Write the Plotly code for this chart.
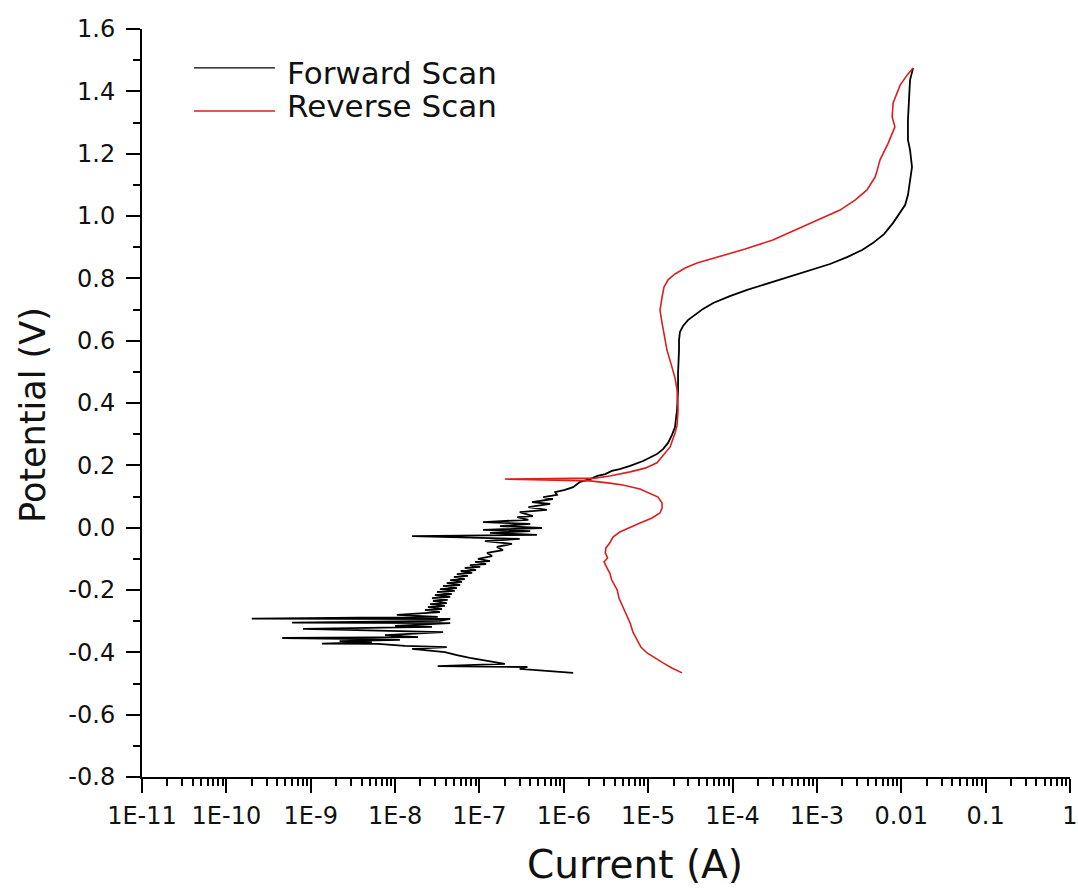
import plotly.graph_objects as go

# ---------------- data ----------------
fwd_current = [
    1.29e-6, 6.5e-7, 3.0e-7, 3.7e-7, 3.2e-8, 2.0e-7, 1.23e-7, 7.7e-8, 5.4e-8, 3.9e-8,
    1.59e-8, 4.1e-8, 1.31e-8, 6.3e-9, 1.36e-9, 5.3e-9, 2.2e-9, 1.14e-8, 2.55e-9, 4.6e-10,
    1.87e-8, 7.6e-9, 3.7e-8, 8.1e-10, 2.74e-8, 1.0e-8, 4.5e-8, 6.0e-10, 3.4e-8, 4.5e-8,
    2.0e-10, 3.2e-8, 1.05e-8,
    1.97e-8, 3.4e-8, 2.26e-8, 3.6e-8, 2.45e-8, 3.9e-8, 2.6e-8, 4.1e-8, 2.81e-8, 4.2e-8,
    2.74e-8, 4.5e-8, 2.97e-8, 4.7e-8, 3.14e-8, 5.1e-8, 3.4e-8, 5.4e-8, 3.7e-8, 5.9e-8,
    4.1e-8, 6.2e-8, 4.5e-8, 6.7e-8, 4.99e-8, 7.3e-8, 5.4e-8, 8.2e-8, 6.0e-8, 9.1e-8,
    6.7e-8, 1.02e-7, 7.7e-8, 1.20e-7, 8.9e-8, 1.33e-7,
    9.6e-8, 1.41e-7, 1.23e-7, 1.9e-7, 1.61e-7, 2.43e-7, 1.16e-7, 3.0e-7, 1.59e-8, 4.8e-7,
    1.33e-7, 4.0e-7, 1.10e-7, 5.5e-7, 1.75e-7, 4.0e-7, 1.10e-7, 3.8e-7, 2.8e-7, 4.3e-7,
    3.0e-7, 6.3e-7, 3.8e-7, 6.9e-7, 4.2e-7, 7.4e-7, 5.7e-7, 8.3e-7, 7.9e-7, 1.03e-6,
    1.29e-6, 1.56e-6,
    2.05e-6, 2.5e-6, 3.1e-6, 3.7e-6, 4.6e-6, 6.1e-6, 8.7e-6, 1.05e-5, 1.27e-5, 1.50e-5,
    1.72e-5, 1.91e-5, 2.08e-5, 2.14e-5, 2.20e-5, 2.26e-5, 2.26e-5, 2.32e-5, 2.32e-5, 2.38e-5,
    2.59e-5, 2.96e-5, 3.4e-5, 4.47e-5, 5.9e-5, 9.3e-5, 1.49e-4, 3.66e-4, 9.0e-4, 1.43e-3,
    2.28e-3, 3.43e-3, 4.6e-3, 6.25e-3, 8.0e-3, 9.7e-3, 1.11e-2, 1.20e-2, 1.27e-2, 1.34e-2,
    1.27e-2, 1.20e-2, 1.20e-2, 1.24e-2, 1.27e-2, 1.38e-2]
fwd_potential = [
    -0.466, -0.460, -0.453, -0.447, -0.444, -0.437, -0.428, -0.418, -0.409, -0.399,
    -0.389, -0.383, -0.379, -0.373, -0.372, -0.367, -0.364, -0.360, -0.357, -0.354,
    -0.351, -0.345, -0.335, -0.325, -0.318, -0.315, -0.306, -0.305, -0.299, -0.293,
    -0.292, -0.286, -0.280,
    -0.274, -0.271, -0.264, -0.261, -0.255, -0.251, -0.245, -0.242, -0.235, -0.232,
    -0.226, -0.222, -0.216, -0.213, -0.206, -0.203, -0.197, -0.194, -0.187, -0.184,
    -0.178, -0.174, -0.168, -0.165, -0.158, -0.155, -0.149, -0.145, -0.139, -0.136,
    -0.129, -0.126, -0.120, -0.117, -0.110, -0.107,
    -0.100, -0.091, -0.081, -0.072, -0.062, -0.052, -0.043, -0.036, -0.027, -0.023,
    -0.017, -0.011, -0.007, -0.001, 0.005, 0.012, 0.018, 0.025, 0.034, 0.037,
    0.050, 0.057, 0.066, 0.076, 0.082, 0.092, 0.098, 0.105, 0.114, 0.121,
    0.130, 0.147,
    0.156, 0.166, 0.172, 0.182, 0.188, 0.198, 0.214, 0.224, 0.236, 0.252,
    0.272, 0.297, 0.323, 0.352, 0.378, 0.442, 0.496, 0.570, 0.602, 0.628,
    0.647, 0.666, 0.679, 0.702, 0.721, 0.743, 0.763, 0.795, 0.827, 0.846,
    0.868, 0.891, 0.913, 0.942, 0.978, 1.010, 1.035, 1.067, 1.106, 1.157,
    1.212, 1.244, 1.308, 1.372, 1.436, 1.475]

rev_current = [
    1.38e-2, 1.17e-2, 9.7e-3, 8.9e-3, 8.0e-3, 7.8e-3, 8.4e-3, 7.0e-3, 5.6e-3, 5.2e-3,
    4.9e-3, 3.9e-3, 2.83e-3, 1.88e-3, 1.32e-3, 9.0e-4, 5.2e-4, 3.0e-4, 1.41e-4, 9.3e-5,
    5.9e-5, 3.79e-5, 2.74e-5, 2.08e-5, 1.72e-5, 1.54e-5, 1.46e-5, 1.38e-5, 1.46e-5, 1.58e-5,
    1.67e-5, 1.91e-5, 2.08e-5, 2.20e-5, 2.26e-5, 2.20e-5, 2.08e-5, 1.82e-5, 1.50e-5, 1.27e-5,
    9.2e-6, 6.1e-6, 3.5e-6, 2.34e-6, 2.0e-7, 2.05e-6, 3.5e-6, 5.0e-6, 8.0e-6, 1.05e-5,
    1.31e-5, 1.46e-5, 1.46e-5, 1.38e-5, 1.11e-5, 8.0e-6, 5.8e-6, 4.6e-6, 3.83e-6, 3.5e-6,
    3.16e-6, 3.1e-6, 3.3e-6, 3.0e-6, 3.2e-6, 3.5e-6, 3.7e-6, 4.3e-6, 4.5e-6, 5.0e-6,
    5.5e-6, 6.1e-6, 6.6e-6, 7.4e-6, 8.2e-6, 9.7e-6, 1.20e-5, 1.50e-5, 1.91e-5, 2.52e-5]
rev_potential = [
    1.475, 1.452, 1.420, 1.395, 1.363, 1.318, 1.286, 1.234, 1.180, 1.148,
    1.125, 1.083, 1.051, 1.019, 1.000, 0.981, 0.952, 0.923, 0.894, 0.880,
    0.866, 0.849, 0.833, 0.814, 0.795, 0.772, 0.740, 0.698, 0.657, 0.612,
    0.570, 0.516, 0.480, 0.442, 0.378, 0.329, 0.304, 0.259, 0.230, 0.208,
    0.191, 0.179, 0.166, 0.159, 0.156, 0.150, 0.143, 0.137, 0.124, 0.111,
    0.098, 0.079, 0.063, 0.047, 0.031, 0.015, -0.001, -0.014, -0.030, -0.049,
    -0.065, -0.081, -0.097, -0.110, -0.126, -0.145, -0.168, -0.200, -0.226, -0.255,
    -0.280, -0.306, -0.335, -0.360, -0.383, -0.402, -0.418, -0.434, -0.450, -0.466]

x_tick_vals = [1e-11, 1e-10, 1e-9, 1e-8, 1e-7, 1e-6, 1e-5, 1e-4, 1e-3, 1e-2, 1e-1, 1]
x_tick_text = ["1E-11", "1E-10", "1E-9", "1E-8", "1E-7", "1E-6", "1E-5", "1E-4", "1E-3",
               "0.01", "0.1", "1"]
y_tick_vals = [-0.8, -0.6, -0.4, -0.2, 0.0, 0.2, 0.4, 0.6, 0.8, 1.0, 1.2, 1.4, 1.6]
y_tick_text = ["-0.8", "-0.6", "-0.4", "-0.2", "0.0", "0.2", "0.4", "0.6", "0.8", "1.0",
               "1.2", "1.4", "1.6"]
series_names = ["Forward Scan", "Reverse Scan"]
series_colors = ["#000000", "#dc1e1e"]

# minor tick positions (axis decoration)
x_minor = [k * 10.0 ** e for e in range(-11, 0) for k in range(2, 10)]
y_minor = [round(-0.7 + 0.2 * i, 1) for i in range(12)]

FONT = "DejaVu Sans, Liberation Sans, Arial, sans-serif"
TXT = "#111111"

fig = go.Figure()
fig.add_trace(go.Scatter(x=fwd_current, y=fwd_potential, mode="lines", name=series_names[0],
                         line=dict(color=series_colors[0], width=1.8), showlegend=False))
fig.add_trace(go.Scatter(x=rev_current, y=rev_potential, mode="lines", name=series_names[1],
                         line=dict(color=series_colors[1], width=1.6), showlegend=False))

# hand-drawn legend (long line samples, as in the original)
legend_y_line = [0.948, 0.8904]
legend_y_text = [0.9412, 0.897]
for i in range(2):
    fig.add_shape(type="line", xref="paper", yref="paper", x0=0.056, x1=0.1433,
                  y0=legend_y_line[i], y1=legend_y_line[i],
                  line=dict(color=series_colors[i], width=1.4))
    fig.add_annotation(xref="paper", yref="paper", x=0.154, y=legend_y_text[i],
                       text=series_names[i], showarrow=False, xanchor="left", yanchor="middle",
                       font=dict(family=FONT, size=31, color=TXT))

# axis titles
fig.add_annotation(xref="paper", yref="paper", x=0.531, y=-0.1176, text="Current (A)",
                   showarrow=False, xanchor="center", yanchor="middle",
                   font=dict(family=FONT, size=39, color=TXT))
fig.add_annotation(xref="paper", yref="paper", x=-0.1175, y=0.484, text="Potential (V)",
                   showarrow=False, xanchor="center", yanchor="middle", textangle=-90,
                   font=dict(family=FONT, size=35, color=TXT))

fig.update_xaxes(type="log", range=[-11, 0], tickmode="array", tickvals=x_tick_vals,
                 ticktext=x_tick_text, showline=True, linecolor="black", linewidth=2,
                 ticks="outside", ticklen=14, tickwidth=2, tickcolor="black",
                 showgrid=False, zeroline=False, ticklabelstandoff=2, automargin=False,
                 tickfont=dict(family=FONT, size=24, color=TXT),
                 minor=dict(tickmode="array", tickvals=x_minor, ticks="outside", ticklen=7,
                            tickwidth=1.5, tickcolor="black", showgrid=False))
fig.update_yaxes(range=[-0.8, 1.6], tickmode="array", tickvals=y_tick_vals,
                 ticktext=y_tick_text, showline=True, linecolor="black", linewidth=2,
                 ticks="outside", ticklen=14, tickwidth=2, tickcolor="black",
                 showgrid=False, zeroline=False, ticklabelstandoff=6, automargin=False,
                 tickfont=dict(family=FONT, size=24, color=TXT),
                 minor=dict(tickmode="array", tickvals=y_minor, ticks="outside", ticklen=7,
                            tickwidth=1.5, tickcolor="black", showgrid=False))

fig.update_layout(width=1078, height=889, margin=dict(l=142, r=8, t=29, b=112),
                  paper_bgcolor="white", plot_bgcolor="white", showlegend=False)

fig.write_html("out.html")
